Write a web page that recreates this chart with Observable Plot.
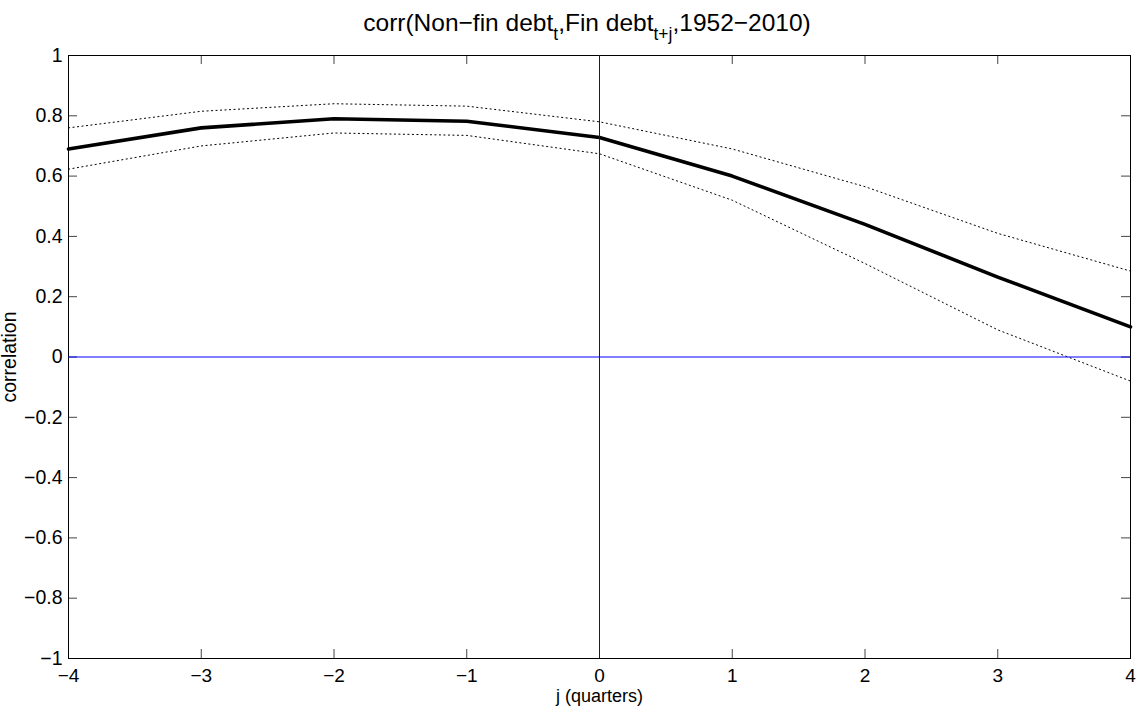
<!DOCTYPE html>
<html>
<head>
<meta charset="utf-8">
<script src="https://cdn.jsdelivr.net/npm/d3@7"></script>
<script src="https://cdn.jsdelivr.net/npm/@observablehq/plot@0.6"></script>
<style>
  html, body { margin: 0; padding: 0; background: #fff; }
  #wrap { width: 1136px; height: 706px; position: relative; font-family: "Liberation Sans", Arial, sans-serif; }
  #title { height: 50px; text-align: center; font-size: 24.5px; line-height: 24.5px; padding-top: 11px; box-sizing: border-box; padding-left: 38px; color: #000; white-space: nowrap; }
  #title sub { font-size: 17.5px; vertical-align: -9px; line-height: 0; }
  #chart svg { display: block; }
</style>
</head>
<body>
<div id="wrap">
  <div id="title">corr(Non−fin debt<sub>t</sub>,Fin debt<sub>t+j</sub>,1952−2010)</div>
  <div id="chart"></div>
</div>
<script>
const lags = [-4, -3, -2, -1, 0, 1, 2, 3, 4];
const corr = [0.69, 0.76, 0.79, 0.782, 0.728, 0.60, 0.44, 0.265, 0.10];
const upper = [0.76, 0.815, 0.84, 0.832, 0.78, 0.69, 0.565, 0.41, 0.285];
const lower = [0.623, 0.70, 0.743, 0.735, 0.674, 0.52, 0.31, 0.09, -0.08];
const xTicks = [-4, -3, -2, -1, 0, 1, 2, 3, 4];
const yTicks = [-1, -0.8, -0.6, -0.4, -0.2, 0, 0.2, 0.4, 0.6, 0.8, 1];
const zeroLines = [0];
const xLabel = ["j (quarters)"];

const rows = lags.map((j, i) => ({j, corr: corr[i], upper: upper[i], lower: lower[i]}));
const fmt = d => d < 0 ? "\u2212" + String(Math.abs(d)) : String(d);

const W = 1136, H = 656, mL = 68, mR = 6, mT = 5, mB = 48;
const plotW = W - mL - mR, plotH = H - mT - mB, tick = 9;

const chart = Plot.plot({
  width: W,
  height: H,
  marginLeft: mL,
  marginRight: mR,
  marginTop: mT,
  marginBottom: mB,
  style: {fontFamily: "'Liberation Sans', Arial, sans-serif", fontSize: "19px", color: "#000", background: "#fff", overflow: "visible"},
  x: {domain: [-4, 4]},
  y: {domain: [-1, 1]},
  marks: [
    // inward tick marks on all four sides (MATLAB box style)
    Plot.tickX(xTicks, {x: d => d, stroke: "#444", insetTop: plotH - tick}),
    Plot.tickX(xTicks, {x: d => d, stroke: "#444", insetBottom: plotH - tick}),
    Plot.tickY(yTicks, {y: d => d, stroke: "#444", insetRight: plotW - tick}),
    Plot.tickY(yTicks, {y: d => d, stroke: "#444", insetLeft: plotW - tick}),
    Plot.line(rows, {x: "j", y: "upper", stroke: "#000", strokeWidth: 1, strokeDasharray: "1.2,3.3"}),
    Plot.line(rows, {x: "j", y: "lower", stroke: "#000", strokeWidth: 1, strokeDasharray: "1.2,3.3"}),
    Plot.line(rows, {x: "j", y: "corr", stroke: "#000", strokeWidth: 3.6}),
    Plot.axisX(xTicks, {anchor: "bottom", tickSize: 0, tickPadding: 10, tickFormat: fmt, fontSize: 19, label: null}),
    Plot.text(xLabel, {text: d => d, frameAnchor: "bottom", lineAnchor: "top", dy: 31, fontSize: 18, fill: "#000"}),
    Plot.axisY(yTicks, {anchor: "left", tickSize: 0, tickPadding: 6, tickFormat: fmt, fontSize: 19.5, label: "correlation", labelAnchor: "center", labelOffset: 66, labelArrow: "none"}),
    Plot.frame({stroke: "#000", strokeWidth: 1}),
    Plot.ruleY(zeroLines, {y: d => d, stroke: "#0000ff", strokeWidth: 1}),
    Plot.ruleX(zeroLines, {x: d => d, stroke: "#0000ff", strokeWidth: 1})
  ]
});
document.getElementById("chart").appendChild(chart);
</script>
</body>
</html>
